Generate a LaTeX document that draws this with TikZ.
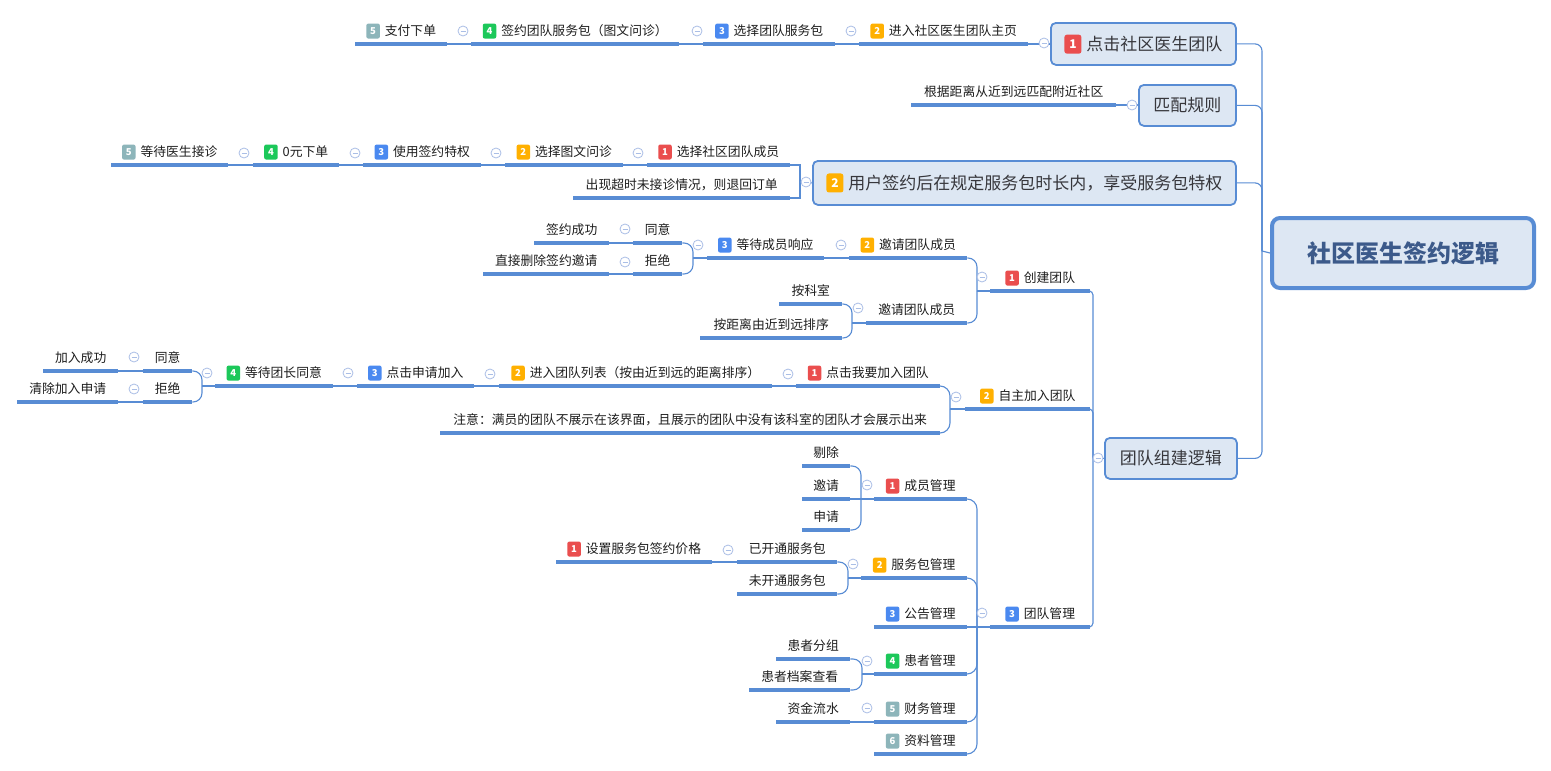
\documentclass[tikz,border=0pt]{standalone}
\usepackage{fontspec}
\setmainfont{Noto Sans CJK SC}
\usetikzlibrary{calc}
\definecolor{ln}{RGB}{88,140,212}
\definecolor{cl}{RGB}{170,190,230}
\definecolor{boxf}{RGB}{221,231,243}
\definecolor{txt}{RGB}{30,30,30}
\definecolor{boxt}{RGB}{55,55,60}
\definecolor{roott}{RGB}{60,90,138}
\definecolor{cre}{RGB}{234,78,78}
\definecolor{cor}{RGB}{255,176,0}
\definecolor{cbl}{RGB}{74,137,240}
\definecolor{cgr}{RGB}{28,200,90}
\definecolor{cgy}{RGB}{141,181,186}
\tikzset{
  ul/.style={draw=ln, line width=3.3pt},
  conn/.style={draw=ln, line width=1.1pt},
  topic/.style={inner sep=0pt, minimum height=26pt, anchor=south west, text=txt, font=\fontsize{12.8}{15}\selectfont},
  bdg/.style={fill=#1, rounded corners=2pt, inner sep=0pt, minimum width=13.5pt, minimum height=15pt, text=white, font=\fontsize{9.5}{10}\selectfont\bfseries},
  bigbdg/.style={fill=#1, rounded corners=2.5pt, inner sep=0pt, minimum width=17pt, minimum height=19pt, text=white, font=\fontsize{12}{13}\selectfont\bfseries},
  coll/.style={circle, draw=cl, line width=0.8pt, minimum size=10pt, inner sep=0pt, fill=white,
    path picture={\draw[cl, line width=0.8pt] ([xshift=-2.5pt]path picture bounding box.center) -- ([xshift=2.5pt]path picture bounding box.center);}},
  box/.style={draw=ln, line width=1.8pt, fill=boxf, rounded corners=5pt, inner sep=0pt, anchor=north west, text=boxt, font=\fontsize{17}{20}\selectfont},
  rootbox/.style={draw=ln, line width=4pt, fill=boxf, rounded corners=8pt, inner sep=0pt, anchor=north west, text=roott, font=\fontsize{24}{28}\selectfont\bfseries},
}
\newcommand\tp[5]{%
  \node[topic, minimum width={#3-#2}] (#1) at (#2,#4) {#5};
  \draw[ul] (#1.south west) -- (#1.south east);
}
\newcommand\tpb[7]{%
  \node[topic, minimum width={#3-#2}] (#1) at (#2,#4) {\hspace{18.5pt}#7};
  \draw[ul] (#1.south west) -- (#1.south east);
  \node[bdg=#5] (#1b) at ($(#1.text)+(6.75,-4.6)$) {#6};
}
\begin{document}
\begin{tikzpicture}[x=1pt,y=-1pt]
\fill[white] (0,0) rectangle (1551,771);
\useasboundingbox (0,0) rectangle (1551,771);

% ---------- root and level-1 boxes ----------
\node[rootbox, minimum width=262pt, minimum height=70pt] (R) at (1270,216) {社区医生签约逻辑};
\coordinate (RJ) at (1262,251);

\node[box, minimum width=185pt, minimum height=42pt] (B1) at (1050,22) {\hspace{22pt}点击社区医生团队};
\node[bigbdg=cre] (B1b) at ($(B1.text)+(8.5,-6.2)$) {1};
\node[box, minimum width=97pt, minimum height=41pt] (B2) at (1138,84) {匹配规则};
\node[box, minimum width=423pt, minimum height=44pt] (B3) at (812,160) {\hspace{22pt}用户签约后在规定服务包时长内，享受服务包特权};
\node[bigbdg=cor] (B3b) at ($(B3.text)+(8.5,-6.2)$) {2};
\node[box, minimum width=132pt, minimum height=41pt] (B4) at (1104,437) {团队组建逻辑};

\draw[conn, rounded corners=7pt] (B1.east) -| (RJ);
\draw[conn, rounded corners=7pt] (B2.east) -| (RJ);
\draw[conn, rounded corners=7pt] (B3.east) -| (RJ);
\draw[conn, rounded corners=7pt] (B4.east) -| (RJ);
\draw[conn] (RJ) -- (R.west);

% ---------- branch 1 ----------
\tpb{A2}{859}{1028}{44}{cor}{2}{进入社区医生团队主页}
\tpb{A3}{703}{835}{44}{cbl}{3}{选择团队服务包}
\tpb{A4}{471}{679}{44}{cgr}{4}{签约团队服务包（图文问诊）}
\tpb{A5}{355}{447}{44}{cgy}{5}{支付下单}
\draw[conn] (A2.south east) -- (A2.south east -| B1.west);
\draw[conn] (A3.south east) -- (A2.south west);
\draw[conn] (A4.south east) -- (A3.south west);
\draw[conn] (A5.south east) -- (A4.south west);

% ---------- branch 2 ----------
\tp{M1}{911}{1116}{105}{根据距离从近到远匹配附近社区}
\draw[conn] (M1.south east) -- (M1.south east -| B2.west);

% ---------- branch 3 ----------
\tpb{C1}{647}{790}{165}{cre}{1}{选择社区团队成员}
\tp{C1n}{573}{790}{198}{出现超时未接诊情况，则退回订单}
\tpb{C2}{505}{623}{165}{cor}{2}{选择图文问诊}
\tpb{C3}{363}{481}{165}{cbl}{3}{使用签约特权}
\tpb{C4}{253}{339}{165}{cgr}{4}{0元下单}
\tpb{C5}{111}{228}{165}{cgy}{5}{等待医生接诊}
\coordinate (CJ) at (800,182);
\draw[conn] (C1.south east) -| (CJ);
\draw[conn] (C1n.south east) -| (CJ);
\draw[conn] (CJ) -- (B3.west);
\draw[conn] (C2.south east) -- (C1.south west);
\draw[conn] (C3.south east) -- (C2.south west);
\draw[conn] (C4.south east) -- (C3.south west);
\draw[conn] (C5.south east) -- (C4.south west);

% ---------- branch 4 ----------
\coordinate (DJ) at (1093,458);
\tpb{D1}{990}{1090}{291}{cre}{1}{创建团队}
\tpb{D2}{965}{1090}{409}{cor}{2}{自主加入团队}
\tpb{D3}{990}{1090}{627}{cbl}{3}{团队管理}
\draw[conn, rounded corners=4pt] (D1.south east) -| (DJ);
\draw[conn, rounded corners=4pt] (D2.south east) -| (DJ);
\draw[conn, rounded corners=4pt] (D3.south east) -| (DJ);
\draw[conn] (DJ) -- (B4.west);

% create team
\coordinate (D1J) at (977,291);
\tpb{D1a}{849}{967}{258}{cor}{2}{邀请团队成员}
\tp{D1b}{866}{967}{323}{邀请团队成员}
\draw[conn, rounded corners=9pt] (D1a.south east) -| (D1J);
\draw[conn, rounded corners=9pt] (D1b.south east) -| (D1J);
\draw[conn] (D1J) -- (D1.south west);

\tpb{D1c}{707}{824}{258}{cbl}{3}{等待成员响应}
\draw[conn] (D1c.south east) -- (D1a.south west);
\coordinate (YJ1) at (693,258);
\tp{Y1}{633}{682}{243}{同意}
\tp{N1}{633}{682}{274}{拒绝}
\draw[conn, rounded corners=9pt] (Y1.south east) -| (YJ1);
\draw[conn, rounded corners=9pt] (N1.south east) -| (YJ1);
\draw[conn] (YJ1) -- (D1c.south west);
\tp{Y1a}{534}{609}{243}{签约成功}
\tp{N1a}{483}{609}{274}{直接删除签约邀请}
\draw[conn] (Y1a.south east) -- (Y1.south west);
\draw[conn] (N1a.south east) -- (N1.south west);

\coordinate (KJ) at (852,323);
\tp{K1}{779}{842}{304}{按科室}
\tp{K2}{700}{842}{338}{按距离由近到远排序}
\draw[conn, rounded corners=9pt] (K1.south east) -| (KJ);
\draw[conn, rounded corners=9pt] (K2.south east) -| (KJ);
\draw[conn] (KJ) -- (D1b.south west);

% join team
\coordinate (D2J) at (950,409);
\tpb{D2a}{796}{940}{386}{cre}{1}{点击我要加入团队}
\tp{D2n}{440}{940}{433}{注意：满员的团队不展示在该界面，且展示的团队中没有该科室的团队才会展示出来}
\draw[conn, rounded corners=10pt] (D2a.south east) -| (D2J);
\draw[conn, rounded corners=10pt] (D2n.south east) -| (D2J);
\draw[conn] (D2J) -- (D2.south west);
\tpb{D2b}{499}{772}{386}{cor}{2}{进入团队列表（按由近到远的距离排序）}
\tpb{D2c}{357}{474}{386}{cbl}{3}{点击申请加入}
\tpb{D2d}{215}{333}{386}{cgr}{4}{等待团长同意}
\draw[conn] (D2b.south east) -- (D2a.south west);
\draw[conn] (D2c.south east) -- (D2b.south west);
\draw[conn] (D2d.south east) -- (D2c.south west);
\coordinate (YJ2) at (202,386);
\tp{Y2}{143}{192}{371}{同意}
\tp{N2}{143}{192}{402}{拒绝}
\draw[conn, rounded corners=9pt] (Y2.south east) -| (YJ2);
\draw[conn, rounded corners=9pt] (N2.south east) -| (YJ2);
\draw[conn] (YJ2) -- (D2d.south west);
\tp{Y2a}{43}{118}{371}{加入成功}
\tp{N2a}{17}{118}{402}{清除加入申请}
\draw[conn] (Y2a.south east) -- (Y2.south west);
\draw[conn] (N2a.south east) -- (N2.south west);

% team management
\coordinate (D3J) at (977,627);
\tpb{E1}{874}{967}{499}{cre}{1}{成员管理}
\tpb{E2}{861}{967}{578}{cor}{2}{服务包管理}
\tpb{E3}{874}{967}{627}{cbl}{3}{公告管理}
\tpb{E4}{874}{967}{674}{cgr}{4}{患者管理}
\tpb{E5}{874}{967}{722}{cgy}{5}{财务管理}
\tpb{E6}{874}{967}{754}{cgy}{6}{资料管理}
\draw[conn, rounded corners=10pt] (E1.south east) -| (D3J);
\draw[conn, rounded corners=10pt] (E2.south east) -| (D3J);
\draw[conn] (E3.south east) -- (D3J);
\draw[conn, rounded corners=10pt] (E4.south east) -| (D3J);
\draw[conn, rounded corners=10pt] (E5.south east) -| (D3J);
\draw[conn, rounded corners=10pt] (E6.south east) -| (D3J);
\draw[conn] (D3J) -- (D3.south west);

\coordinate (E1J) at (861,499);
\tp{E1a}{802}{850}{466}{剔除}
\tp{E1b}{802}{850}{499}{邀请}
\tp{E1c}{802}{850}{530}{申请}
\draw[conn, rounded corners=9pt] (E1a.south east) -| (E1J);
\draw[conn] (E1b.south east) -- (E1J);
\draw[conn, rounded corners=9pt] (E1c.south east) -| (E1J);
\draw[conn] (E1J) -- (E1.south west);

\coordinate (E2J) at (848,578);
\tp{E2a}{737}{837}{562}{已开通服务包}
\tp{E2b}{737}{837}{594}{未开通服务包}
\draw[conn, rounded corners=9pt] (E2a.south east) -| (E2J);
\draw[conn, rounded corners=9pt] (E2b.south east) -| (E2J);
\draw[conn] (E2J) -- (E2.south west);
\tpb{E2c}{556}{712}{562}{cre}{1}{设置服务包签约价格}
\draw[conn] (E2c.south east) -- (E2a.south west);

\coordinate (E4J) at (862,674);
\tp{E4a}{776}{850}{659}{患者分组}
\tp{E4b}{749}{850}{690}{患者档案查看}
\draw[conn, rounded corners=9pt] (E4a.south east) -| (E4J);
\draw[conn, rounded corners=9pt] (E4b.south east) -| (E4J);
\draw[conn] (E4J) -- (E4.south west);
\tp{E5a}{776}{850}{722}{资金流水}
\draw[conn] (E5a.south east) -- (E5.south west);

% ---------- collapse markers ----------
\node[coll] (k01) at (1044,43) {};
\node[coll] (k02) at (851,31) {};
\node[coll] (k03) at (697,31) {};
\node[coll] (k04) at (463,31) {};
\node[coll] (k05) at (1132,105) {};
\node[coll] (k06) at (806,182) {};
\node[coll] (k07) at (638,153) {};
\node[coll] (k08) at (496,153) {};
\node[coll] (k09) at (355,153) {};
\node[coll] (k10) at (244,153) {};
\node[coll] (k11) at (1098,458) {};
\node[coll] (k12) at (982,277) {};
\node[coll] (k13) at (841,245) {};
\node[coll] (k14) at (698,245) {};
\node[coll] (k15) at (625,229) {};
\node[coll] (k16) at (625,262) {};
\node[coll] (k17) at (858,308) {};
\node[coll] (k18) at (956,397) {};
\node[coll] (k19) at (788,374) {};
\node[coll] (k20) at (490,374) {};
\node[coll] (k21) at (348,373) {};
\node[coll] (k22) at (207,373) {};
\node[coll] (k23) at (134,357) {};
\node[coll] (k24) at (134,389) {};
\node[coll] (k25) at (982,613) {};
\node[coll] (k26) at (867,485) {};
\node[coll] (k27) at (853,564) {};
\node[coll] (k28) at (728,550) {};
\node[coll] (k29) at (867,661) {};
\node[coll] (k30) at (867,708) {};
\end{tikzpicture}
\end{document}
